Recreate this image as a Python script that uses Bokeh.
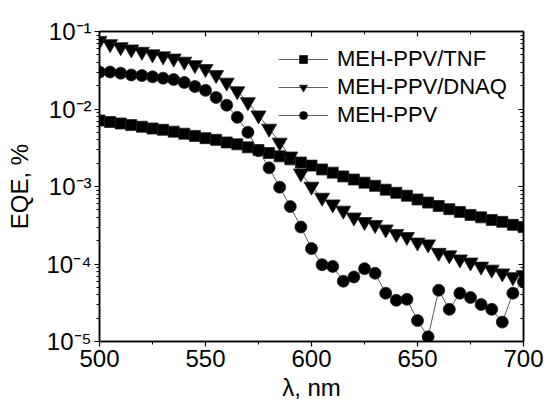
from bokeh.plotting import figure
from bokeh.models import (Legend, LegendItem, LinearAxis, LogAxis, FixedTicker,
                          SingleIntervalTicker, CustomJSTickFormatter, Range1d)
from bokeh.embed import file_html
from bokeh.resources import INLINE

# ---- data ----
wavelength = [500, 505, 510, 515, 520, 525, 530, 535, 540, 545, 550, 555, 560, 565, 570,
              575, 580, 585, 590, 595, 600, 605, 610, 615, 620, 625, 630, 635, 640, 645,
              650, 655, 660, 665, 670, 675, 680, 685, 690, 695, 700]

eqe_tnf = [7.1e-3, 6.8e-3, 6.5e-3, 6.2e-3, 5.9e-3, 5.6e-3, 5.4e-3, 5.1e-3, 4.8e-3, 4.5e-3,
           4.2e-3, 4.0e-3, 3.7e-3, 3.5e-3, 3.2e-3, 2.95e-3, 2.7e-3, 2.45e-3, 2.24e-3, 2.04e-3,
           1.86e-3, 1.66e-3, 1.51e-3, 1.35e-3, 1.23e-3, 1.12e-3, 1.02e-3, 9.1e-4, 8.3e-4, 7.6e-4,
           6.8e-4, 6.2e-4, 5.6e-4, 5.1e-4, 4.7e-4, 4.3e-4, 4.0e-4, 3.7e-4, 3.5e-4, 3.2e-4, 3.0e-4]

eqe_dnaq = [0.076, 0.069, 0.063, 0.059, 0.055, 0.051, 0.048, 0.045, 0.041, 0.037,
            0.033, 0.0275, 0.022, 0.017, 0.0123, 0.0083, 0.0056, 0.0037, 0.00245, 0.00148,
            1.0e-3, 7.2e-4, 5.9e-4, 4.9e-4, 4.0e-4, 3.5e-4, 3.2e-4, 2.8e-4, 2.45e-4, 2.24e-4,
            1.9e-4, 1.8e-4, 1.4e-4, 1.3e-4, 1.15e-4, 1.05e-4, 9.3e-5, 8.5e-5, 7.6e-5, 6.8e-5, 7.2e-5]

eqe_meh = [0.030, 0.030, 0.029, 0.0275, 0.027, 0.026, 0.025, 0.024, 0.022, 0.0195,
           0.0174, 0.0141, 0.0112, 0.0078, 0.0050, 0.0029, 0.00174, 9.8e-4, 5.5e-4, 3.0e-4,
           1.58e-4, 9.8e-5, 9.3e-5, 6.0e-5, 6.8e-5, 8.7e-5, 7.6e-5, 4.2e-5, 3.4e-5, 3.5e-5,
           1.86e-5, 1.15e-5, 4.6e-5, 2.6e-5, 4.2e-5, 3.7e-5, 3.0e-5, 2.6e-5, 1.78e-5, 4.2e-5, 5.9e-5]

series_names = ["MEH-PPV/TNF", "MEH-PPV/DNAQ", "MEH-PPV"]

x_limits = (500, 700)
y_limits = (1e-5, 1e-1)
y_ticks = [1e-5, 1e-4, 1e-3, 1e-2, 1e-1]
y_tick_labels = ["10\u207b\u2075", "10\u207b\u2074", "10\u207b\u00b3", "10\u207b\u00b2", "10\u207b\u00b9"]
x_label = "\u03bb, nm"
y_label = "EQE, %"

FONT = "Liberation Sans"

p = figure(width=547, height=404, y_axis_type="log",
           x_range=Range1d(*x_limits), y_range=Range1d(*y_limits),
           output_backend="svg", toolbar_location=None,
           min_border_left=99, min_border_right=24, min_border_top=31, min_border_bottom=63)
p.grid.visible = False
p.outline_line_color = "black"
p.outline_line_width = 1.5
p.background_fill_color = "white"
p.border_fill_color = "white"

minor_y = [m * 10.0 ** e for e in range(-5, -1) for m in range(2, 10)]
y_ticker = FixedTicker(ticks=y_ticks, minor_ticks=minor_y)
x_ticker = SingleIntervalTicker(interval=50, num_minor_ticks=2)

xa = p.xaxis[0]
xa.ticker = x_ticker
xa.axis_label = x_label
ya = p.yaxis[0]
ya.ticker = y_ticker
ya.major_label_overrides = {t: s for t, s in zip(y_ticks, y_tick_labels)}
ya.axis_label = y_label

for ax in (xa, ya):
    ax.axis_line_width = 1.5
    ax.axis_line_color = "black"
    ax.major_tick_line_width = 1.2
    ax.minor_tick_line_width = 1.0
    ax.major_tick_out = 5
    ax.major_tick_in = 0
    ax.minor_tick_out = 3
    ax.minor_tick_in = 0
    ax.major_label_text_font = FONT
    ax.major_label_text_font_size = "24px"
    ax.major_label_text_color = "black"
    ax.axis_label_text_font = FONT
    ax.axis_label_text_font_size = "24px"
    ax.axis_label_text_font_style = "normal"
    ax.axis_label_text_color = "black"

xa.major_label_standoff = 3
xa.axis_label_standoff = 4
ya.major_label_standoff = 3
ya.axis_label_standoff = 10

blank = CustomJSTickFormatter(code="return ''")
top = LinearAxis(ticker=x_ticker, formatter=blank, axis_line_width=1.5,
                 major_tick_in=5, major_tick_out=0, minor_tick_in=3, minor_tick_out=0,
                 major_tick_line_width=1.2, major_label_standoff=0)
right = LogAxis(ticker=y_ticker, formatter=blank, axis_line_width=1.5,
                major_tick_in=5, major_tick_out=0, minor_tick_in=3, minor_tick_out=0,
                major_tick_line_width=1.2, major_label_standoff=0)
p.add_layout(top, "above")
p.add_layout(right, "right")

line_kw = dict(line_color="#333333", line_width=0.8)
l1 = p.line(wavelength, eqe_tnf, **line_kw)
s1 = p.scatter(wavelength, eqe_tnf, marker="square", size=11, fill_color="black",
               line_color="#222222", line_width=0.8)
l2 = p.line(wavelength, eqe_dnaq, **line_kw)
s2 = p.scatter(wavelength, eqe_dnaq, marker="inverted_triangle", size=15, fill_color="black",
               line_color="#222222", line_width=0.8)
l3 = p.line(wavelength, eqe_meh, **line_kw)
s3 = p.scatter(wavelength, eqe_meh, marker="circle", size=12, fill_color="black",
               line_color="#222222", line_width=0.8)

legend = Legend(items=[LegendItem(label=series_names[0], renderers=[l1, s1]),
                       LegendItem(label=series_names[1], renderers=[l2, s2]),
                       LegendItem(label=series_names[2], renderers=[l3, s3])],
                location=(179, 213), border_line_color=None, background_fill_alpha=0,
                label_text_font=FONT, label_text_font_size="22px", label_text_color="black",
                glyph_width=50, glyph_height=20, label_standoff=9, spacing=2,
                padding=4, margin=0)
p.add_layout(legend)

open("out.html", "w").write(file_html(p, INLINE))
